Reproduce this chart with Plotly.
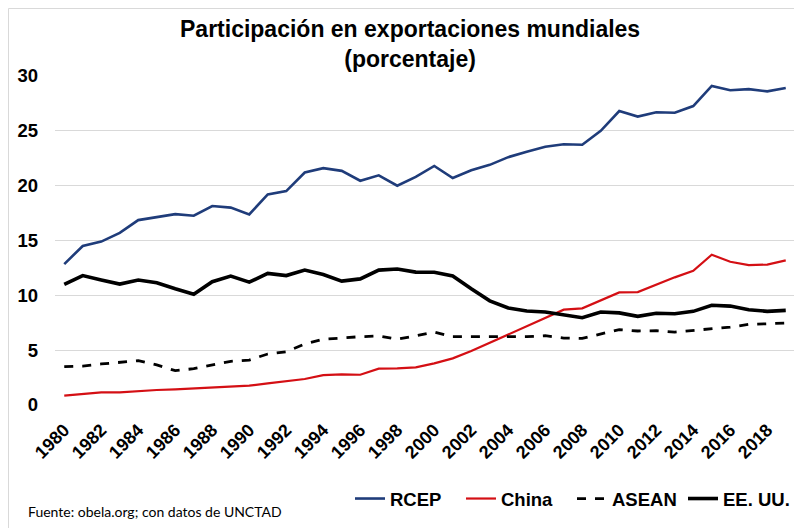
import plotly.graph_objects as go

years = list(range(1980, 2020))
tick_years = list(range(1980, 2020, 2))

rcep = [12.85, 14.5, 14.9, 15.7, 16.86, 17.1, 17.4, 17.26, 18.14, 18.0,
        17.38, 19.2, 19.5, 21.2, 21.6, 21.35, 20.45, 20.94, 20.0, 20.8,
        21.8, 20.7, 21.4, 21.9, 22.6, 23.1, 23.55, 23.77, 23.73, 25.0,
        26.8, 26.3, 26.7, 26.65, 27.26, 29.1, 28.7, 28.8, 28.6, 28.9]
china = [0.85, 1.03, 1.15, 1.15, 1.28, 1.37, 1.43, 1.52, 1.61, 1.67,
         1.76, 1.98, 2.19, 2.37, 2.73, 2.8, 2.76, 3.31, 3.34, 3.43,
         3.8, 4.25, 4.92, 5.68, 6.38, 7.2, 7.96, 8.69, 8.81, 9.54,
         10.27, 10.3, 11.0, 11.64, 12.24, 13.7, 13.06, 12.76, 12.8, 13.19]
asean = [3.5, 3.55, 3.74, 3.89, 4.04, 3.65, 3.13, 3.31, 3.65, 3.98,
         4.1, 4.65, 4.86, 5.56, 5.99, 6.14, 6.23, 6.29, 6.0, 6.3,
         6.65, 6.23, 6.23, 6.2, 6.17, 6.23, 6.32, 6.1, 6.08, 6.47,
         6.87, 6.75, 6.77, 6.65, 6.8, 7.0, 7.1, 7.35, 7.44, 7.47]
usa = [11.0, 11.8, 11.4, 11.03, 11.4, 11.15, 10.6, 10.1, 11.24, 11.76,
       11.2, 12.0, 11.8, 12.3, 11.9, 11.3, 11.5, 12.3, 12.4, 12.12,
       12.1, 11.76, 10.6, 9.5, 8.85, 8.57, 8.48, 8.2, 7.96, 8.48,
       8.4, 8.08, 8.36, 8.32, 8.54, 9.09, 9.02, 8.69, 8.54, 8.63]

title_text = "Participación en exportaciones mundiales<br>(porcentaje)"
source_text = "Fuente: obela.org; con datos de UNCTAD"
y_ticks = [0, 5, 10, 15, 20, 25, 30]

# the page body adds an 8px offset; figure occupies page pixels 8..802 x 8..528
OFF = 8
W, H = 802 - OFF, 528 - OFF
ml, mr, mt, mb = 55 - OFF, 7, 76 - OFF, 528 - 405
pw, ph = W - ml - mr, H - mt - mb

def px_x(p):
    return (p - OFF - ml) / pw

def px_y(p):
    return (H - mb - (p - OFF)) / ph

FONT = "Liberation Sans, Arial"

fig = go.Figure()
fig.add_trace(go.Scatter(x=years, y=rcep, name="RCEP", mode="lines",
                         line=dict(color="#1F3C7A", width=2.6)))
fig.add_trace(go.Scatter(x=years, y=china, name="China", mode="lines",
                         line=dict(color="#D40F14", width=2.2)))
fig.add_trace(go.Scatter(x=years, y=asean, name="ASEAN", mode="lines",
                         line=dict(color="#000000", width=2.8, dash="dash")))
fig.add_trace(go.Scatter(x=years, y=usa, name="EE. UU.", mode="lines",
                         line=dict(color="#000000", width=3.6)))

fig.update_layout(
    width=W, height=H,
    margin=dict(l=ml, r=mr, t=mt, b=mb, autoexpand=False),
    paper_bgcolor="white", plot_bgcolor="white",
    font=dict(family=FONT, color="#000000"),
    xaxis=dict(range=[1979.5, 2019.5], tickmode="array", tickvals=tick_years,
               ticktext=[str(y) for y in tick_years], tickangle=-45,
               showgrid=False, showline=False, zeroline=False, ticks="",
               automargin=False, ticklabelstandoff=10,
               tickfont=dict(size=18, family=FONT, color="#000000", weight="bold")),
    yaxis=dict(range=[0, 30], tickmode="array", tickvals=y_ticks,
               ticktext=[str(v) for v in y_ticks],
               showgrid=True, gridcolor="#D9D9D9", gridwidth=1.3, zeroline=False,
               showline=False, ticks="", ticklabelstandoff=16, automargin=False,
               tickfont=dict(size=18.5, family=FONT, color="#000000", weight="bold")),
    legend=dict(orientation="h", x=px_x(794), xanchor="right", y=px_y(499), yanchor="middle",
                font=dict(size=18.5, family=FONT, color="#000000", weight="bold"),
                itemwidth=30, entrywidth=66, entrywidthmode="pixels",
                bgcolor="rgba(0,0,0,0)", traceorder="normal"),
    showlegend=True,
)

fig.add_annotation(text=title_text, xref="paper", yref="paper",
                   x=px_x(410), y=px_y(44), xanchor="center", yanchor="middle",
                   showarrow=False,
                   font=dict(size=23, family=FONT, color="#000000", weight="bold"))

fig.add_annotation(text=source_text, xref="paper", yref="paper",
                   x=px_x(26), y=px_y(511), xanchor="left", yanchor="middle",
                   showarrow=False, font=dict(size=14, family="Lato, Open Sans", color="#000000"))

# chart frame (left and top edges visible in the reference)
fig.add_shape(type="line", xref="paper", yref="paper",
              x0=px_x(8.5), x1=px_x(8.5), y0=px_y(8.5), y1=px_y(560),
              line=dict(color="#D9D9D9", width=1))
fig.add_shape(type="line", xref="paper", yref="paper",
              x0=px_x(8.5), x1=px_x(840), y0=px_y(8.5), y1=px_y(8.5),
              line=dict(color="#D9D9D9", width=1))

fig.write_html("out.html")
